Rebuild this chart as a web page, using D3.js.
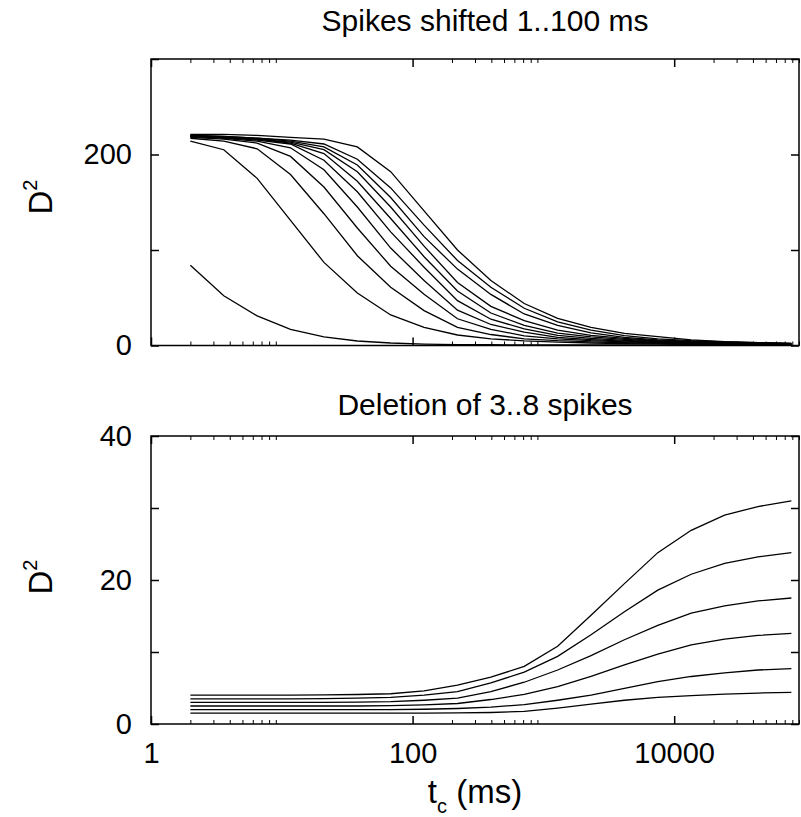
<!DOCTYPE html>
<html>
<head>
<meta charset="utf-8">
<script src="https://cdn.jsdelivr.net/npm/d3@7"></script>
<style>
  body { margin: 0; background: #fff; }
  text { font-family: "Liberation Sans", Arial, sans-serif; fill: #000; }
  .axis path, .axis line { stroke: #000; stroke-width: 1.5; }
  .minor line { stroke-width: 1; }
</style>
</head>
<body>
<div id="plot"></div>
<script>
// time constants t_c (ms) used for every curve
var tcValues = [2, 3.6, 6.48, 11.66, 21.0, 37.8, 68.0, 122.4, 220.4, 396.7, 714, 1285, 2313, 4164, 7495, 13491, 24284, 43711, 78680];

// top panel: spikes shifted by 1, 10, 20 ... 100 ms
var shift1   = [84, 52, 31, 17, 9, 4.7, 2.6, 1.5, 1.0, 0.8, 0.7, 0.6, 0.6, 0.6, 0.7, 0.8, 1.0, 1.2, 1.3];
var shift10  = [214, 205, 175, 131, 87, 55, 32, 19, 11, 7, 4.8, 3.5, 2.6, 2.0, 1.6, 1.3, 1.1, 0.9, 0.8];
var shift20  = [217, 214, 206, 179, 138, 94, 61, 36.5, 19, 11.5, 7, 5.0, 3.8, 2.9, 2.2, 1.7, 1.3, 1.1, 1.0];
var shift30  = [218, 216, 212, 198, 166, 123, 83, 53.7, 28, 17, 10, 7.0, 5.0, 3.8, 2.9, 2.2, 1.7, 1.35, 1.1];
var shift40  = [219, 217, 214, 207, 184, 145, 102, 68, 37, 22, 14, 8.5, 6.2, 4.6, 3.5, 2.6, 2.0, 1.6, 1.25];
var shift50  = [219, 218, 215, 211, 194, 161, 119, 82, 47, 27.5, 17.5, 10.5, 7.5, 5.4, 4.0, 3.1, 2.3, 1.8, 1.45];
var shift60  = [219, 218, 216, 212, 201, 172, 133, 93, 57, 34, 21, 13, 9.0, 6.4, 4.7, 3.5, 2.7, 2.0, 1.6];
var shift70  = [220, 218, 216, 213, 205, 182, 145, 104, 66, 41, 26, 16, 10.5, 7.4, 5.2, 3.9, 3.0, 2.3, 1.8];
var shift80  = [220, 219, 217, 214, 208, 189, 155, 114, 80, 53.5, 33, 21, 13.2, 8.5, 5.8, 4.4, 3.4, 2.6, 2.0];
var shift90  = [220, 219, 217, 215, 211, 195, 165, 126, 89, 61, 39, 24.8, 16, 10.3, 7, 5, 3.8, 3.0, 2.3];
var shift100 = [221, 221, 220, 218, 216, 208, 182, 141, 100, 68, 44, 28.5, 19, 12.8, 9.2, 5.8, 4, 3, 2.3];
var shiftSeries = [shift1, shift10, shift20, shift30, shift40, shift50, shift60, shift70, shift80, shift90, shift100];

// bottom panel: deletion of 3..8 spikes
var del3 = [1.5, 1.5, 1.5, 1.5, 1.5, 1.5, 1.5, 1.5, 1.55, 1.6, 1.75, 2.2, 2.75, 3.3, 3.7, 3.95, 4.15, 4.3, 4.4];
var del4 = [2, 2, 2, 2, 2, 2, 2, 2.05, 2.15, 2.35, 2.7, 3.3, 4.0, 4.95, 5.9, 6.6, 7.1, 7.5, 7.7];
var del5 = [2.5, 2.5, 2.5, 2.5, 2.5, 2.5, 2.55, 2.65, 2.85, 3.4, 4.1, 5.2, 6.6, 8.2, 9.7, 11.0, 11.8, 12.3, 12.6];
var del6 = [3, 3, 3, 3, 3, 3.05, 3.1, 3.3, 3.6, 4.5, 5.8, 7.5, 9.5, 11.7, 13.7, 15.4, 16.4, 17.1, 17.5];
var del7 = [3.5, 3.5, 3.5, 3.5, 3.52, 3.6, 3.7, 4.0, 4.5, 5.7, 7.2, 9.4, 12.4, 15.6, 18.6, 20.8, 22.3, 23.2, 23.8];
var del8 = [4, 4, 4, 4, 4.05, 4.1, 4.2, 4.6, 5.4, 6.5, 8.0, 10.8, 15.1, 19.5, 23.8, 26.9, 29, 30.2, 31];
var deleteSeries = [del3, del4, del5, del6, del7, del8];

// ticks
var xMajor = [1, 100, 10000];
var xMinor = [2, 3, 4, 5, 6, 7, 8, 9, 200, 300, 400, 500, 600, 700, 800, 900, 20000, 30000, 40000, 50000, 60000, 70000, 80000, 90000];
var topYTicks = [0, 100, 200, 300];
var topYLabels = [0, 200];
var botYTicks = [0, 10, 20, 30, 40];
var botYLabels = [0, 20, 40];

var w = 801;
var h = 817;
var left = 151, right = 799;

var svg = d3.select("#plot")
            .append("svg")
            .attr("width", w)
            .attr("height", h);

var xScale = d3.scaleLog()
               .domain([1, 90000])
               .range([left, right]);

function drawPanel(series, yDomain, yTop, yBottom, yTicks, yLabels, showX) {
  var yScale = d3.scaleLinear()
                 .domain(yDomain)
                 .range([yBottom, yTop]);

  // frame
  svg.append("rect")
     .attr("x", left)
     .attr("y", yTop)
     .attr("width", right - left)
     .attr("height", yBottom - yTop)
     .attr("fill", "none")
     .attr("stroke", "#000")
     .attr("stroke-width", 1.5);

  // x ticks, bottom and top edges, pointing inward
  svg.append("g").attr("class", "axis")
     .attr("transform", "translate(0," + yBottom + ")")
     .call(d3.axisBottom(xScale).tickValues(xMajor).tickSize(-8).tickPadding(18)
             .tickFormat(showX ? function(d) { return d; } : function() { return ""; }))
     .call(function(g) { g.select(".domain").remove(); });
  svg.append("g").attr("class", "axis minor")
     .attr("transform", "translate(0," + yBottom + ")")
     .call(d3.axisBottom(xScale).tickValues(xMinor).tickSize(-4).tickFormat(""))
     .call(function(g) { g.select(".domain").remove(); });
  svg.append("g").attr("class", "axis")
     .attr("transform", "translate(0," + yTop + ")")
     .call(d3.axisTop(xScale).tickValues(xMajor).tickSize(-8).tickFormat(""))
     .call(function(g) { g.select(".domain").remove(); });
  svg.append("g").attr("class", "axis minor")
     .attr("transform", "translate(0," + yTop + ")")
     .call(d3.axisTop(xScale).tickValues(xMinor).tickSize(-4).tickFormat(""))
     .call(function(g) { g.select(".domain").remove(); });

  // y ticks, left and right
  svg.append("g").attr("class", "axis")
     .attr("transform", "translate(" + left + ",0)")
     .call(d3.axisLeft(yScale).tickValues(yTicks).tickSize(-8).tickPadding(19)
             .tickFormat(function(d) { return yLabels.indexOf(d) >= 0 ? d : ""; }))
     .call(function(g) { g.select(".domain").remove(); });
  svg.append("g").attr("class", "axis")
     .attr("transform", "translate(" + right + ",0)")
     .call(d3.axisRight(yScale).tickValues(yTicks).tickSize(-8).tickFormat(""))
     .call(function(g) { g.select(".domain").remove(); });

  var line = d3.line()
               .x(function(d, i) { return xScale(tcValues[i]); })
               .y(function(d) { return yScale(d); });

  svg.selectAll(null)
     .data(series)
     .enter()
     .append("path")
     .attr("d", line)
     .attr("fill", "none")
     .attr("stroke", "#000")
     .attr("stroke-width", 1.3);

  return yScale;
}

drawPanel(shiftSeries, [0, 300], 59, 345.5, topYTicks, topYLabels, false);
drawPanel(deleteSeries, [0, 40], 436, 724, botYTicks, botYLabels, true);

svg.selectAll(".axis text")
   .attr("font-family", "Liberation Sans, Arial, sans-serif")
   .attr("font-size", "29px");

// titles
svg.append("text")
   .attr("x", 485).attr("y", 31)
   .attr("text-anchor", "middle")
   .attr("font-size", "30px")
   .text("Spikes shifted 1..100 ms");
svg.append("text")
   .attr("x", 485).attr("y", 415)
   .attr("text-anchor", "middle")
   .attr("font-size", "30px")
   .text("Deletion of 3..8 spikes");

// y labels D^2
[197, 577].forEach(function(cy) {
  var t = svg.append("text")
     .attr("transform", "translate(52," + cy + ") rotate(-90)")
     .attr("text-anchor", "middle")
     .attr("font-size", "33px");
  t.append("tspan").text("D");
  t.append("tspan").attr("font-size", "20px").attr("dy", -15).text("2");
});

// x label t_c (ms)
var xl = svg.append("text")
   .attr("x", 475).attr("y", 803)
   .attr("text-anchor", "middle")
   .attr("font-size", "33px");
xl.append("tspan").text("t");
xl.append("tspan").attr("font-size", "20px").attr("dy", 10).text("c");
xl.append("tspan").attr("dy", -10).text(" (ms)");
</script>
</body>
</html>
